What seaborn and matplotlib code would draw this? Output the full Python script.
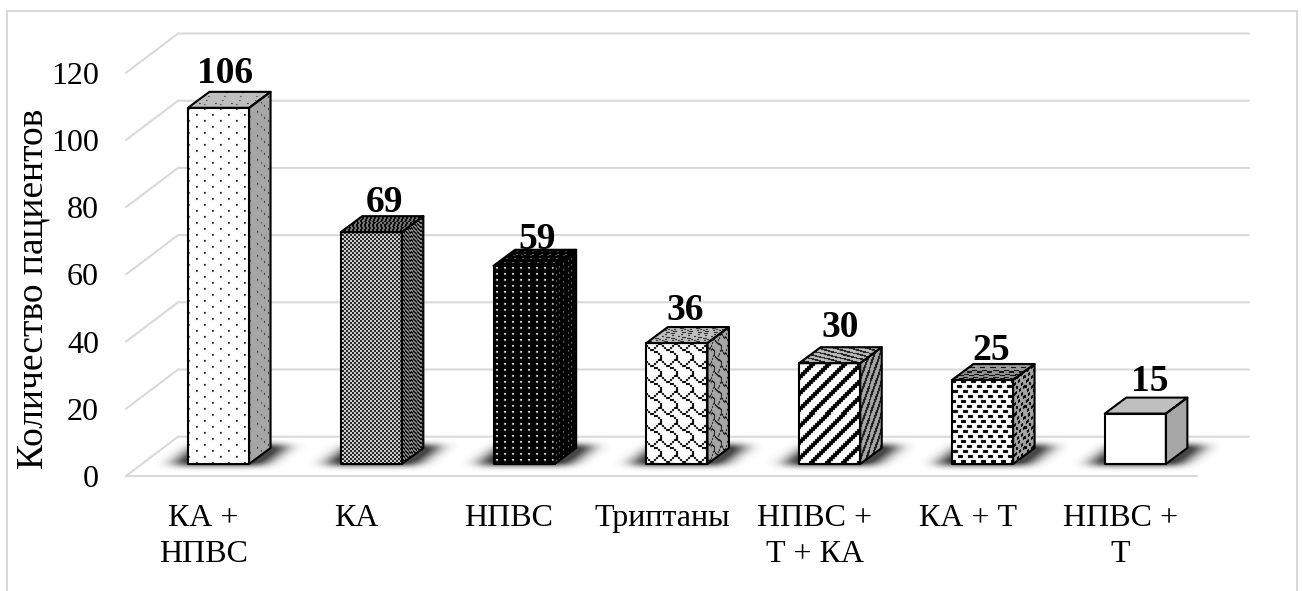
import numpy as np
import pandas as pd
import matplotlib
matplotlib.use("Agg")
import matplotlib.pyplot as plt
import seaborn as sns
from matplotlib.patches import Polygon, Rectangle

categories = ["КА +\nНПВС", "КА", "НПВС", "Триптаны", "НПВС +\nТ + КА", "КА + Т", "НПВС +\nТ"]
patients = [106, 69, 59, 36, 30, 25, 15]
y_ticks = [0, 20, 40, 60, 80, 100, 120]

W, H = 1302, 591
PX_X = 152.8   # pixels per category
PX_Y = 3.36    # pixels per patient
DEPTH_X = 21.5 / PX_X
DEPTH_Y = 16 / PX_Y
BASE = 464     # pixel row of the bars' foot
FLOOR_FRONT = 12 / PX_Y
FLOOR_BACK = 27.3 / PX_Y
GRID = "#d9d9d9"


def bits(rows, sx=2, sy=2):
    tile = np.array([[(r >> (7 - i)) & 1 for i in range(8)] for r in rows], float)
    return np.repeat(np.repeat(tile, sy, axis=0), sx, axis=1)


def dots_sparse():
    t = np.zeros((12, 16))
    t[1:3, 1:3] = [[1, .8], [.8, .5]]
    t[7:9, 9:11] = [[1, .8], [.8, .5]]
    return t


def checker():
    t = np.zeros((4, 4))
    t[:2, :2] = 1
    t[2:, 2:] = 1
    return t


def dots_grid():
    t = np.zeros((6, 8))
    t[2, 3:5] = 1
    t[3, 3:5] = .7
    return t


def confetti():
    t = np.zeros((20, 20))
    for row, col in zip(range(0, 20, 5), [0, 6, 2, 7]):
        for c in (col, col + 10):
            t[row:row + 3, np.arange(c, c + 5) % 20] = 1
    return t


tiles = [
    dots_sparse(),
    checker(),
    dots_grid(),
    bits([0x03, 0x84, 0x48, 0x30, 0x0C, 0x02, 0x01, 0x01], 2, 2),
    bits([0x83, 0x07, 0x0E, 0x1C, 0x38, 0x70, 0xE0, 0xC1], 2, 2),
    confetti(),
    None,
]
front_colors = ["#ffffff", "#e8e8e8", "#000000", "#ffffff", "#ffffff", "#ffffff", "#ffffff"]
side_colors = ["#a6a6a6", "#9a9a9a", "#000000", "#a6a6a6", "#a6a6a6", "#a6a6a6", "#a6a6a6"]
top_colors = ["#bfbfbf", "#808080", "#000000", "#bfbfbf", "#bfbfbf", "#9a9a9a", "#bfbfbf"]
front_ink = [0.0, 0.05, 0.95, 0.0, 0.0, 0.0, 0.0]
back_ink = [0.15, 0.0, 0.45, 0.1, 0.1, 0.0, 0.0]

# label offsets from the back top edge of each bar, in pixels
label_dx = [6.5, 13, 13, 8, 10, 9, 14]
label_dy = [9, 4, 1, 7, 10, 4, 7]


def smooth(a, sigma_y, sigma_x=None):
    sigma_x = sigma_y if sigma_x is None else sigma_x
    for axis, sigma in ((0, sigma_y), (1, sigma_x)):
        r = max(1, int(3 * sigma))
        k = np.exp(-0.5 * (np.arange(-r, r + 1) / sigma) ** 2)
        k /= k.sum()
        a = np.apply_along_axis(lambda m: np.convolve(m, k, mode="same"), axis, a)
    return a


def gray(c):
    return matplotlib.colors.to_rgb(c)[0]


def paint(ax, verts, tile, ink, bg, face, zorder):
    pix = ax.transData.transform(verts)
    x0, y0 = np.floor(pix.min(axis=0)).astype(int)
    x1, y1 = np.ceil(pix.max(axis=0)).astype(int)
    xx, yy = np.meshgrid(np.arange(x0, x1), np.arange(y1, y0, -1))
    if face == "side":
        # squeezed across, sheared upward with the depth
        u = (xx - x0) * 2.2
        v = (y1 - yy) + (xx - x0) * 0.74
    elif face == "top":
        # stripes come out flat and falling to the right here
        u = (xx - x0) - (y1 - yy) * 5.6
        v = (y1 - yy) * 1.6
    else:
        u, v = xx - x0, y1 - yy
    vals = tile[v.astype(int) % tile.shape[0], u.astype(int) % tile.shape[1]]
    img = ink * vals + bg * (1 - vals)
    img = smooth(img, 0.45)
    (l, b), (r, t) = ax.transData.inverted().transform([(x0, y0), (x1, y1)])
    im = ax.imshow(img, extent=(l, r, b, t), origin="upper", aspect="auto", cmap="gray",
                   vmin=0, vmax=1, interpolation="nearest", zorder=zorder)
    im.set_clip_path(Polygon(verts, transform=ax.transData))


def shadow(ax, left, right):
    # soft dark patch lying on the floor, leaning with the depth
    x0, x1 = int(left - 70), int(right + 110)
    y0, y1 = BASE - 45, BASE + 20
    xx, yy = np.meshgrid(np.arange(x0, x1), np.arange(y0, y1))
    lean = (BASE - yy) * 1.3
    mask = ((xx >= left - 16 + lean) & (xx <= right + 14 + lean)
            & (yy >= BASE - 19) & (yy <= BASE)).astype(float)
    a = np.clip(smooth(mask, 3.0, 9.0) * 1.15, 0, 0.85)
    rgba = np.zeros(a.shape + (4,))
    rgba[..., :3] = 0.15
    rgba[..., 3] = a
    inv = ax.transData.inverted()
    (l, b), (r, t) = inv.transform([(x0, H - y1), (x1, H - y0)])
    ax.imshow(rgba, extent=(l, r, b, t), origin="upper", aspect="auto",
              interpolation="bilinear", zorder=1.5, clip_on=False)


sns.set_theme(style="white")
plt.rcParams["font.family"] = ["Liberation Serif", "DejaVu Serif"]

fig = plt.figure(figsize=(W / 100, H / 100), dpi=100)
ax_left, ax_right = 142.1, 1211.7
ax_bottom, ax_top = 476, 34
ax = fig.add_axes([ax_left / W, (H - ax_bottom) / H, (ax_right - ax_left) / W, (ax_bottom - ax_top) / H])
ax.patch.set_visible(False)

df = pd.DataFrame({"cat": categories, "n": patients})
sns.barplot(data=df, x="cat", y="n", hue="cat", palette=front_colors, legend=False,
            width=0.4, edgecolor="black", linewidth=0, saturation=1, zorder=3, ax=ax)
bars = list(ax.patches)

xlim = (-0.5, 6.5)
ylim = (-FLOOR_FRONT, (BASE - ax_top) / PX_Y)
ax.set_xlim(xlim)
ax.set_ylim(ylim)

# back wall and left wall lines
for v in y_ticks:
    back = v + FLOOR_BACK
    front = v - FLOOR_FRONT
    ax.plot([(126 - 218.5) / PX_X, (178 - 218.5) / PX_X, (1249 - 218.5) / PX_X], [front, back, back],
            color=GRID, lw=1.5, clip_on=False, zorder=1, solid_joinstyle="miter")
ax.plot([(126 - 218.5) / PX_X, (1197 - 218.5) / PX_X], [-FLOOR_FRONT, -FLOOR_FRONT],
        color=GRID, lw=1.5, clip_on=False, zorder=1)

for i, bar in enumerate(bars):
    x0, x1 = bar.get_x(), bar.get_x() + bar.get_width()
    h = bar.get_height()
    shadow(ax, ax.transData.transform((x0, 0))[0], ax.transData.transform((x1, 0))[0])

    front = [(x0, 0), (x1, 0), (x1, h), (x0, h)]
    side = [(x1, 0), (x1 + DEPTH_X, DEPTH_Y), (x1 + DEPTH_X, h + DEPTH_Y), (x1, h)]
    top = [(x0, h), (x1, h), (x1 + DEPTH_X, h + DEPTH_Y), (x0 + DEPTH_X, h + DEPTH_Y)]

    if tiles[i] is not None:
        paint(ax, front, tiles[i], front_ink[i], gray(front_colors[i]), "front", 3.2)
        paint(ax, side, tiles[i], back_ink[i], gray(side_colors[i]), "side", 3.2)
        paint(ax, top, tiles[i], back_ink[i], gray(top_colors[i]), "top", 3.2)
    else:
        ax.add_patch(Polygon(side, fc=side_colors[i], ec="none", zorder=3.2))
        ax.add_patch(Polygon(top, fc=top_colors[i], ec="none", zorder=3.2))

    for verts in (front, side, top):
        ax.add_patch(Polygon(verts, fill=False, ec="black", lw=1.5, zorder=4, joinstyle="round"))

    ax.annotate(str(patients[i]), xy=((x0 + x1) / 2, h + DEPTH_Y),
                xytext=(label_dx[i], label_dy[i]), textcoords="offset pixels",
                ha="center", va="baseline", fontsize=27, fontweight="bold",
                color="black", zorder=5, annotation_clip=False)

ax.set_xlim(xlim)
ax.set_ylim(ylim)
ax.set_xticks(np.arange(len(categories)) - 15 / PX_X, labels=categories)
ax.set_yticks(np.array(y_ticks) - FLOOR_FRONT, labels=[str(v) for v in y_ticks])
ax.tick_params(axis="x", length=0, pad=20.5, labelsize=23, colors="black")
ax.tick_params(axis="y", length=0, pad=31, labelsize=23, colors="black")
for lab in ax.get_xticklabels():
    lab.set_linespacing(1.3)
ax.set_xlabel("")
ax.set_ylabel("Количество пациентов", fontsize=27, color="black")
ax.yaxis.set_label_coords((51 - ax_left) / (ax_right - ax_left), (ax_bottom - 289) / (ax_bottom - ax_top))
sns.despine(ax=ax, left=True, bottom=True)

fig.add_artist(Rectangle((6.5 / W, -0.02), (1297 - 6.5) / W, (H - 11) / H + 0.02, fill=False,
                         ec=GRID, lw=1.5, transform=fig.transFigure))

fig.savefig("out.png", dpi=100, facecolor="white")
